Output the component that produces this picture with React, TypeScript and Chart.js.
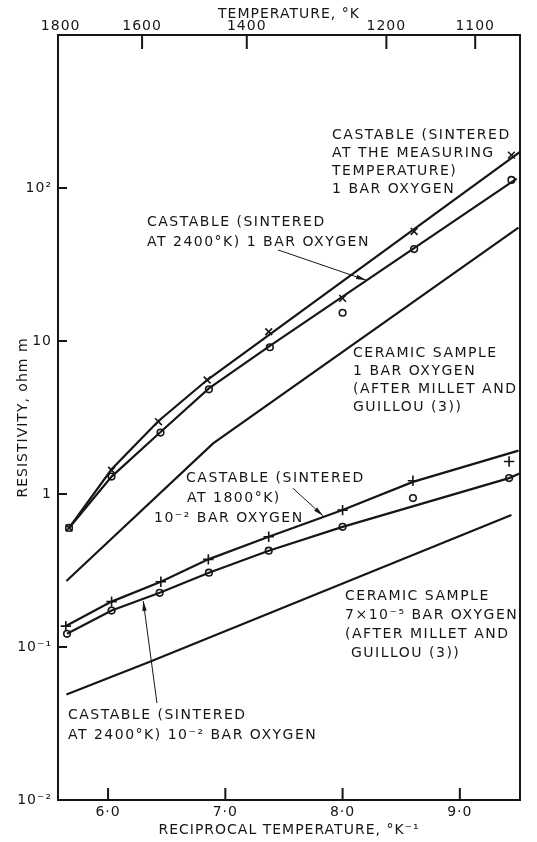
import React, { useEffect, useRef } from "react";
import { Chart, registerables } from "chart.js";

Chart.register(...registerables);

// ---------------- axes ----------------
const recipMin = 5.573;
const recipMax = 9.513;
const recipTicks = [6, 7, 8, 9];
const recipTickLabels = ["6·0", "7·0", "8·0", "9·0"];
const tempTicksK = [1800, 1600, 1400, 1200, 1100];
const tempAxisShift = -0.04;
const resistMin = 0.01;
const resistMax = 1000;
const resistTicks = [0.01, 0.1, 1, 10, 100, 1000];
const resistTickLabels = ["10⁻²", "10⁻¹", "1", "10", "10²", ""];

// ---------------- series ----------------
// Castable sintered at the measuring temperature, 1 bar O2 (× points)
const measX = [5.667, 6.03, 6.43, 6.845, 7.37, 8.0, 8.61, 9.44];
const measR = [0.6, 1.43, 2.97, 5.56, 11.5, 19, 52, 164];
const measLineX = [5.667, 6.03, 6.43, 6.85, 9.513];
const measLineR = [0.6, 1.45, 3.0, 5.6, 172];

// Castable sintered at 2400 K, 1 bar O2 (○ points)
const hi1X = [5.667, 6.03, 6.447, 6.86, 7.38, 8.0, 8.61, 9.44];
const hi1R = [0.6, 1.3, 2.52, 4.83, 9.1, 15.3, 39.9, 113];
const hi1LineX = [5.667, 6.03, 6.45, 6.86, 7.38, 9.485];
const hi1LineR = [0.6, 1.3, 2.55, 4.9, 9.3, 115];

// Ceramic sample, 1 bar O2 (Millet & Guillou)
const cer1X = [5.645, 6.896, 9.5];
const cer1R = [0.27, 2.14, 55];

// Castable sintered at 1800 K, 10^-2 bar O2 (+ points)
const lo18X = [5.64, 6.03, 6.45, 6.855, 7.37, 8.0, 8.6, 9.42];
const lo18R = [0.137, 0.198, 0.267, 0.374, 0.526, 0.785, 1.22, 1.63];
const lo18LineX = [5.64, 6.03, 6.45, 6.855, 7.37, 8.0, 8.6, 9.5];
const lo18LineR = [0.137, 0.198, 0.267, 0.374, 0.526, 0.785, 1.2, 1.92];

// Castable sintered at 2400 K, 10^-2 bar O2 (○ points)
const lo24X = [5.65, 6.03, 6.44, 6.86, 7.37, 8.0, 8.6, 9.42];
const lo24R = [0.122, 0.173, 0.226, 0.306, 0.426, 0.61, 0.94, 1.27];
const lo24LineX = [5.65, 6.03, 6.44, 6.86, 7.37, 8.0, 9.42, 9.51];
const lo24LineR = [0.122, 0.173, 0.226, 0.306, 0.426, 0.61, 1.27, 1.36];

// Ceramic sample, 7x10^-5 bar O2 (Millet & Guillou)
const cer7X = [5.645, 6.356, 9.44];
const cer7R = [0.049, 0.08, 0.73];

// ---------------- annotations (anchored in data units) ----------------
const noteA = ["CASTABLE (SINTERED", "AT THE MEASURING", "TEMPERATURE)", "1 BAR OXYGEN"];
const noteB = ["CASTABLE (SINTERED", "AT 2400°K) 1 BAR OXYGEN"];
const noteC = ["CERAMIC SAMPLE", "1 BAR OXYGEN", "(AFTER MILLET AND", "GUILLOU (3))"];
const noteD = ["CASTABLE (SINTERED", "AT 1800°K)", "10⁻² BAR OXYGEN"];
const noteE = ["CERAMIC SAMPLE", "7×10⁻⁵ BAR OXYGEN", "(AFTER MILLET AND", " GUILLOU (3))"];
const noteF = ["CASTABLE (SINTERED", "AT 2400°K) 10⁻² BAR OXYGEN"];

const notes = [
  { lines: noteA, x: 7.91, y: 222, gap: 18, dx: [0, 0, 0, 0] },
  { lines: noteB, x: 6.332, y: 60, gap: 20, dx: [0, 0] },
  { lines: noteC, x: 8.089, y: 8.36, gap: 18, dx: [0, 0, 0, 0] },
  { lines: noteD, x: 6.665, y: 1.27, gap: 20, dx: [0, 1, -32] },
  { lines: noteE, x: 8.021, y: 0.215, gap: 19, dx: [0, 0, 0, 0] },
  { lines: noteF, x: 5.658, y: 0.036, gap: 20, dx: [0, 0] },
];

const arrows = [
  { x1: 7.449, y1: 39.4, x2: 8.2, y2: 25 },
  { x1: 7.577, y1: 1.09, x2: 7.833, y2: 0.72 },
  { x1: 6.417, y1: 0.043, x2: 6.3, y2: 0.2 },
];

const INK = "#161616";
const FONT = "DejaVu Sans";

const pts = (xs: number[], ys: number[]) => xs.map((x, i) => ({ x, y: ys[i] }));

const lineDs = (xs: number[], ys: number[]) => ({
  data: pts(xs, ys),
  showLine: true,
  pointRadius: 0,
  borderColor: INK,
  borderWidth: 2.2,
  tension: 0,
});

const markDs = (xs: number[], ys: number[], style: string, r: number) => ({
  data: pts(xs, ys),
  showLine: false,
  pointStyle: style,
  pointRadius: r,
  pointBorderWidth: 1.6,
  borderColor: INK,
  backgroundColor: "#ffffff",
  pointBackgroundColor: "#ffffff",
});

const decorPlugin = {
  id: "decor",
  beforeDraw(chart: any) {
    (chart.ctx as any).letterSpacing = "1px";
  },
  afterDraw(chart: any) {
    const { ctx, chartArea: a, scales } = chart;
    const sx = scales.x;
    const sx2 = scales.x2;
    const sy = scales.y;
    ctx.save();
    ctx.strokeStyle = INK;
    ctx.fillStyle = INK;
    ctx.lineWidth = 2;
    ctx.strokeRect(a.left, a.top, a.right - a.left, a.bottom - a.top);
    const seg = (x1: number, y1: number, x2: number, y2: number) => {
      ctx.beginPath();
      ctx.moveTo(x1, y1);
      ctx.lineTo(x2, y2);
      ctx.stroke();
    };
    recipTicks.forEach((v) => {
      const px = sx.getPixelForValue(v);
      seg(px, a.bottom, px, a.bottom - 12);
    });
    tempTicksK.slice(1).forEach((t) => {
      const px = sx2.getPixelForValue(1e4 / t);
      seg(px, a.top, px, a.top + 14);
    });
    resistTicks.slice(1, -1).forEach((v) => {
      const py = sy.getPixelForValue(v);
      seg(a.left, py, a.left + 9, py);
    });

    // annotations
    (ctx as any).letterSpacing = "1.5px";
    ctx.font = `14px "${FONT}"`;
    ctx.textBaseline = "middle";
    ctx.textAlign = "left";
    notes.forEach((n) => {
      const px = sx.getPixelForValue(n.x);
      const py = sy.getPixelForValue(n.y);
      n.lines.forEach((s, i) => {
        ctx.fillText(s, px + (n.dx[i] || 0), py + i * n.gap);
      });
    });
    ctx.lineWidth = 1;
    arrows.forEach((ar) => {
      const x1 = sx.getPixelForValue(ar.x1);
      const y1 = sy.getPixelForValue(ar.y1);
      const x2 = sx.getPixelForValue(ar.x2);
      const y2 = sy.getPixelForValue(ar.y2);
      seg(x1, y1, x2, y2);
      const ang = Math.atan2(y2 - y1, x2 - x1);
      const L = 10;
      const W = 2.2;
      const c = Math.cos(ang);
      const s = Math.sin(ang);
      ctx.beginPath();
      ctx.moveTo(x2, y2);
      ctx.lineTo(x2 - L * c + W * s, y2 - L * s - W * c);
      ctx.lineTo(x2 - L * c - W * s, y2 - L * s + W * c);
      ctx.closePath();
      ctx.fill();
    });
    ctx.restore();
  },
};

export default function App() {
  const ref = useRef<HTMLCanvasElement | null>(null);

  useEffect(() => {
    if (!ref.current) return;
    const tickFont = { family: FONT, size: 14 };
    const noGrid = { display: false, drawTicks: false, tickLength: 0 };
    const chart = new Chart(ref.current, {
      type: "scatter",
      data: {
        datasets: [
          lineDs(measLineX, measLineR),
          lineDs(hi1LineX, hi1LineR),
          lineDs(cer1X, cer1R),
          lineDs(lo18LineX, lo18LineR),
          lineDs(lo24LineX, lo24LineR),
          lineDs(cer7X, cer7R),
          markDs(measX, measR, "crossRot", 4.8),
          markDs(hi1X, hi1R, "circle", 3.3),
          markDs(lo18X, lo18R, "cross", 5.2),
          markDs(lo24X, lo24R, "circle", 3.3),
        ] as any,
      },
      options: {
        animation: false,
        responsive: false,
        devicePixelRatio: 1,
        layout: { padding: { left: 0, right: 17, top: 0, bottom: 0 } },
        plugins: { legend: { display: false }, tooltip: { enabled: false } },
        scales: {
          x: {
            type: "linear",
            position: "bottom",
            min: recipMin,
            max: recipMax,
            grid: noGrid,
            border: { display: false },
            afterBuildTicks: (s: any) => {
              s.ticks = recipTicks.map((v) => ({ value: v }));
            },
            afterFit: (s: any) => {
              s.height = 42;
            },
            ticks: {
              color: INK,
              font: tickFont,
              padding: 4,
              maxRotation: 0,
              autoSkip: false,
              callback: (_v: any, i: number) => recipTickLabels[i],
            },
            title: {
              display: true,
              text: "RECIPROCAL TEMPERATURE, °K⁻¹",
              color: INK,
              font: tickFont,
              padding: { top: 0, bottom: 3 },
            },
          },
          x2: {
            type: "linear",
            position: "top",
            min: recipMin + tempAxisShift,
            max: recipMax + tempAxisShift,
            grid: noGrid,
            border: { display: false },
            afterBuildTicks: (s: any) => {
              s.ticks = tempTicksK.map((t) => ({ value: 1e4 / t }));
            },
            afterFit: (s: any) => {
              s.height = 35;
            },
            ticks: {
              color: INK,
              font: tickFont,
              padding: 0,
              maxRotation: 0,
              autoSkip: false,
              callback: (_v: any, i: number) => String(tempTicksK[i]),
            },
            title: {
              display: true,
              text: "TEMPERATURE, °K",
              color: INK,
              font: tickFont,
              padding: { top: 6, bottom: 0 },
            },
          },
          y: {
            type: "logarithmic",
            position: "left",
            min: resistMin,
            max: resistMax,
            grid: noGrid,
            border: { display: false },
            afterBuildTicks: (s: any) => {
              s.ticks = resistTicks.map((v) => ({ value: v }));
            },
            afterFit: (s: any) => {
              s.width = 58;
            },
            ticks: {
              color: INK,
              font: tickFont,
              padding: 6,
              autoSkip: false,
              callback: (_v: any, i: number) => resistTickLabels[i],
            },
            title: {
              display: true,
              text: "RESISTIVITY, ohm m",
              color: INK,
              font: tickFont,
              padding: { top: 15, bottom: 0 },
            },
          },
        },
      } as any,
      plugins: [decorPlugin],
    });
    return () => chart.destroy();
  }, []);

  return (
    <div style={{ position: "fixed", left: 0, top: 0, width: 537, height: 842, background: "#fff" }}>
      <canvas ref={ref} width={537} height={842} style={{ display: "block" }} />
    </div>
  );
}
